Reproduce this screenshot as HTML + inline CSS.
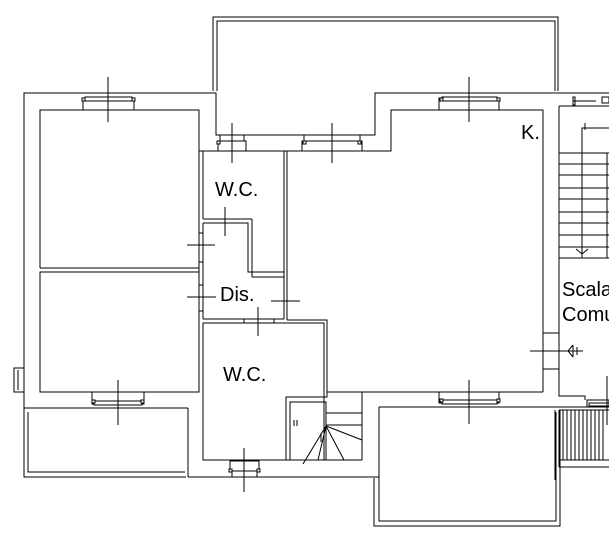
<!DOCTYPE html>
<html><head><style>
html,body{margin:0;padding:0;background:#fff;}
svg{display:block}
text{font-family:"Liberation Sans",sans-serif;fill:#000}
</style></head><body>
<svg width="609" height="545" viewBox="0 0 609 545" xmlns="http://www.w3.org/2000/svg">
<g fill="none" stroke="#000" stroke-width="1.4" shape-rendering="crispEdges">
<polyline points="213,91 213,17 558,17 558,91"/>
<polyline points="217,91 217,21 555,21 555,91"/>
<polyline points="24,408 24,93 216,93 216,135 375,135 375,93 609,93"/>
<polyline points="40,268 40,110 199,110 199,268"/>
<line x1="40" y1="268" x2="199" y2="268"/>
<rect x="40" y="272" width="159" height="120"/>
<rect x="14" y="368" width="10" height="24"/>
<line x1="18" y1="370" x2="18" y2="390"/>
<line x1="24" y1="408" x2="188" y2="408"/>
<polyline points="24,408 24,477 186,477"/>
<polyline points="28,412 28,472 185,472"/>
<line x1="188" y1="408" x2="188" y2="477"/>
<line x1="188" y1="477" x2="379" y2="477"/>
<polyline points="199,151 391,151 391,110 543,110 543,392"/>
<line x1="199" y1="151" x2="199" y2="392"/>
<line x1="203" y1="151" x2="203" y2="219"/>
<line x1="203" y1="219" x2="252" y2="219"/>
<polyline points="252,219 252,277 284,277"/>
<polyline points="203,223 248,223 248,272 284,272"/>
<line x1="284" y1="151" x2="284" y2="319"/>
<line x1="287" y1="151" x2="287" y2="320"/>
<line x1="203" y1="223" x2="203" y2="319"/>
<line x1="203" y1="319" x2="284" y2="319"/>
<line x1="199" y1="233" x2="203" y2="233"/><line x1="199" y1="262" x2="203" y2="262"/>
<line x1="199" y1="285" x2="203" y2="285"/><line x1="199" y1="311" x2="203" y2="311"/>
<line x1="244" y1="319" x2="244" y2="323"/><line x1="274" y1="319" x2="274" y2="323"/>
<polyline points="287,320 327,320 327,397 286,397 286,460"/>
<rect x="203" y="323" width="121" height="137"/>
<polyline points="290,460 290,402 326,402 326,460"/>
<line x1="203" y1="460" x2="362" y2="460"/>
<line x1="362" y1="392" x2="362" y2="460"/>
<line x1="326" y1="413" x2="362" y2="413"/>
<line x1="326" y1="425" x2="362" y2="425"/>
<line x1="327" y1="392" x2="362" y2="392"/>
<line x1="362" y1="392" x2="543" y2="392"/>
<line x1="379" y1="407" x2="609" y2="407"/>
<polyline points="379,407 379,521 556,521 556,412"/>
<polyline points="374,478 374,526 560,526 560,410"/>
<polyline points="559,106 609,106"/>
<polyline points="559,106 559,396 585,396 585,400"/>
<line x1="543" y1="333" x2="559" y2="333"/>
<line x1="543" y1="369" x2="559" y2="369"/>
<polyline points="582,258 582,128 609,128"/>
<line x1="607" y1="153" x2="607" y2="258"/>
<g>
<line x1="559" y1="153" x2="609" y2="153"/><line x1="559" y1="164" x2="609" y2="164"/>
<line x1="559" y1="175" x2="609" y2="175"/><line x1="559" y1="188" x2="609" y2="188"/>
<line x1="559" y1="199" x2="609" y2="199"/><line x1="559" y1="212" x2="609" y2="212"/>
<line x1="559" y1="223" x2="609" y2="223"/><line x1="559" y1="235" x2="609" y2="235"/>
<line x1="559" y1="247" x2="609" y2="247"/><line x1="559" y1="258" x2="609" y2="258"/>
</g>
<line x1="573" y1="101" x2="596" y2="101"/><rect x="573" y="97" width="2" height="8"/><rect x="602" y="97" width="7" height="6"/>
<line x1="555" y1="410" x2="555" y2="480"/><line x1="559" y1="410" x2="559" y2="467"/>
<line x1="559" y1="460" x2="609" y2="460"/><line x1="559" y1="467" x2="609" y2="467"/>
<line x1="559" y1="410" x2="609" y2="410"/>
</g>
<g stroke="#000" stroke-width="1" fill="none">
<path d="M563 410V460M567 410V460M571 410V460M575 410V460M579 410V460M583 410V460M587 410V460M591 410V460M595 410V460M599 410V460M603 410V460"/>
<path d="M326 426L303 464M326 426L318 460M326 426L326 460M326 426L344 460M326 426L362 440M321 433V442"/>
<path d="M576 249L582 254L588 249"/>
<path d="M187 245H215M225 207V236M187 297H216M271 301H300M258 307V336M530 351H583M294 420V426M297 420V426M585 123V130"/>
</g>
<g fill="#fff" stroke="#000" stroke-width="1" shape-rendering="crispEdges">
<rect x="83" y="98" width="51" height="12"/><rect x="85" y="97" width="47" height="4"/><rect x="82" y="98" width="3" height="3"/><rect x="132" y="98" width="3" height="3"/>
<rect x="439" y="98" width="60" height="12"/><rect x="442" y="97" width="55" height="4"/><rect x="440" y="98" width="3" height="3"/><rect x="497" y="98" width="3" height="3"/>
<rect x="218" y="141" width="28" height="10"/><rect x="220" y="135" width="24" height="6"/><rect x="217" y="141" width="3" height="3"/>
<rect x="302" y="141" width="60" height="10"/><rect x="304" y="135" width="56" height="6"/><rect x="303" y="141" width="3" height="3"/><rect x="358" y="141" width="3" height="3"/>
<rect x="92" y="392" width="52" height="12"/><rect x="94" y="401" width="48" height="4"/><rect x="92" y="400" width="3" height="3"/><rect x="141" y="400" width="3" height="3"/>
<rect x="439" y="392" width="60" height="11"/><rect x="442" y="400" width="55" height="4"/><rect x="440" y="399" width="3" height="3"/><rect x="497" y="399" width="3" height="3"/>
<rect x="230" y="461" width="29" height="11"/><rect x="232" y="471" width="25" height="6"/><rect x="229" y="469" width="3" height="3"/><rect x="257" y="469" width="3" height="3"/>
<rect x="587" y="400" width="22" height="7"/><rect x="589" y="403" width="20" height="3"/>
</g>
<g stroke="#000" stroke-width="1" fill="none">
<path d="M108 77V122M469 77V122M232 123V163M332 123V163M118 380V425M469 380V424M244 448V492M607 376V425"/>
<path d="M573 345L568 351L573 357M573 345V357M577 347V355"/>
</g>
<text x="215" y="196" font-size="20">W.C.</text>
<text x="220" y="301" font-size="20">Dis.</text>
<text x="223" y="381" font-size="20">W.C.</text>
<text x="521" y="139" font-size="20">K.</text>
<text x="562" y="296" font-size="20">Scala</text>
<text x="562" y="321" font-size="20">Comu</text>
</svg>
</body></html>
